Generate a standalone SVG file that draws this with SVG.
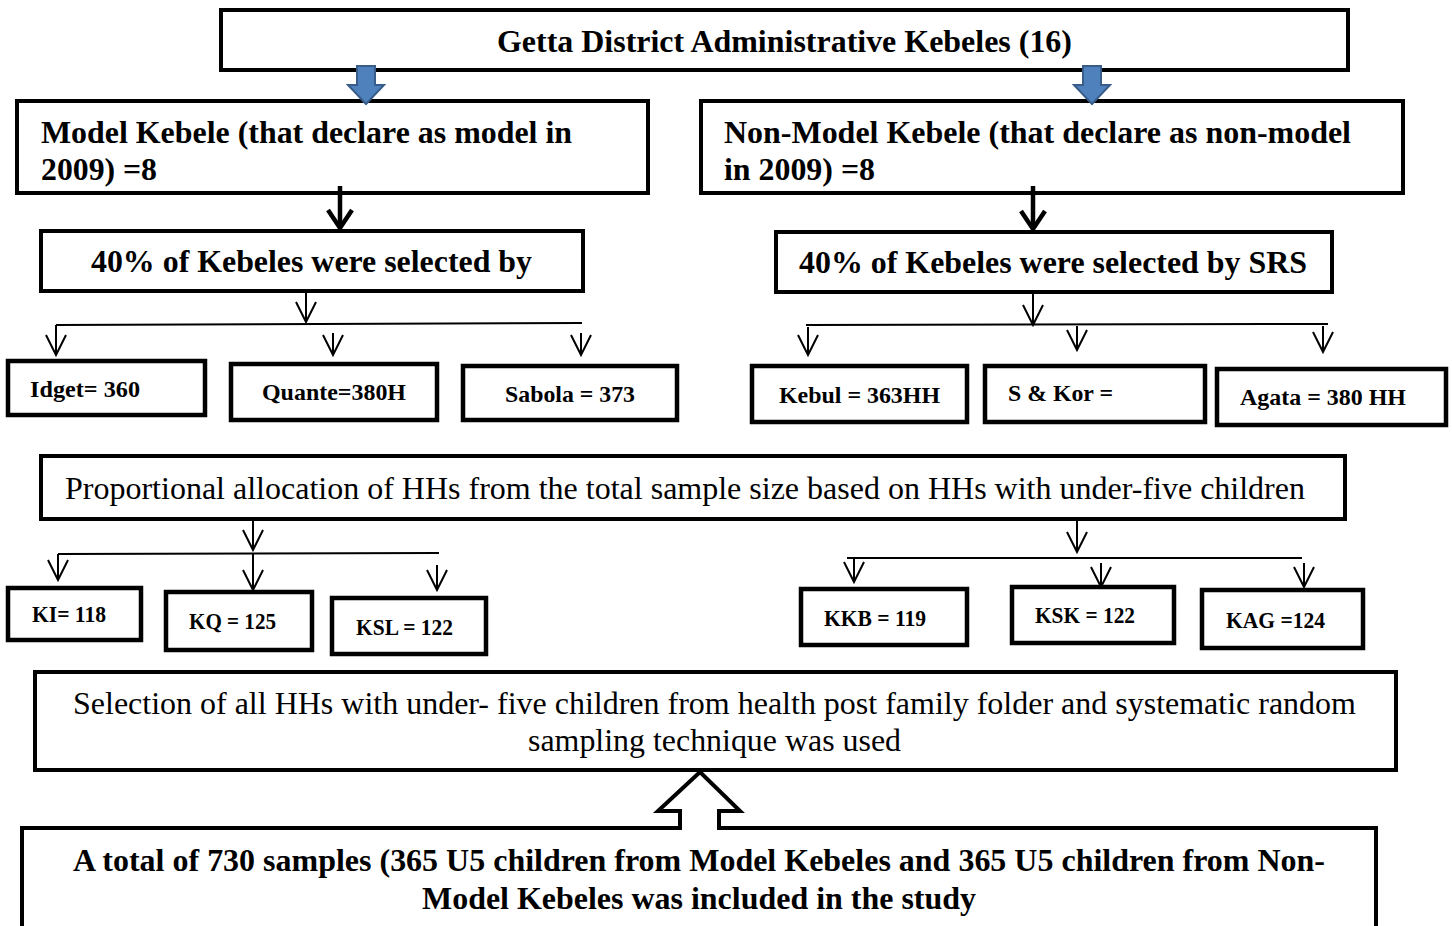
<svg xmlns="http://www.w3.org/2000/svg" width="1452" height="926" viewBox="0 0 1452 926">
<style>
.box{fill:#fff;stroke:#000;stroke-width:4}
.sbox{fill:#fff;stroke:#000;stroke-width:4.5}
.b{font-family:"Liberation Serif","Times New Roman",serif;font-weight:bold;fill:#000}
.n{font-family:"Liberation Serif","Times New Roman",serif;fill:#000}
.t{font-size:31px}
.s{font-size:23px}
.ln{fill:none;stroke:#000;stroke-width:2}
.thick{fill:none;stroke:#000;stroke-width:4.5}
.blue{fill:#4f81bd;stroke:#385d8a;stroke-width:2}
</style>
<defs>
<marker id="v" markerUnits="userSpaceOnUse" viewBox="-22 -12 24 24" refX="0" refY="0" markerWidth="24" markerHeight="24" orient="auto">
<path d="M-20,-10 L0,0 L-20,10" fill="none" stroke="#000" stroke-width="2"/>
</marker>
</defs>
<g id="title"><rect class="box" x="221" y="10" width="1127" height="60"/><text class="b t" x="497" y="52" textLength="575" lengthAdjust="spacingAndGlyphs">Getta District Administrative Kebeles (16)</text></g>
<g id="model"><rect class="box" x="17" y="101" width="631" height="92"/><text class="b t" x="41" y="143" textLength="531" lengthAdjust="spacingAndGlyphs">Model Kebele (that declare as model in</text><text class="b t" x="41" y="180" textLength="116" lengthAdjust="spacingAndGlyphs">2009) =8</text></g>
<g id="nonmodel"><rect class="box" x="701" y="101" width="702" height="92"/><text class="b t" x="724" y="143" textLength="627" lengthAdjust="spacingAndGlyphs">Non-Model Kebele (that declare as non-model</text><text class="b t" x="724" y="180" textLength="151" lengthAdjust="spacingAndGlyphs">in 2009) =8</text></g>
<g id="sel-left"><rect class="box" x="41" y="231" width="542" height="60"/><text class="b t" x="91" y="272" textLength="441" lengthAdjust="spacingAndGlyphs">40% of Kebeles were selected by</text></g>
<g id="sel-right"><rect class="box" x="776" y="232" width="556" height="60"/><text class="b t" x="799" y="273" textLength="508" lengthAdjust="spacingAndGlyphs">40% of Kebeles were selected by SRS</text></g>
<g id="idget"><rect class="sbox" x="8" y="361" width="197" height="54"/><text class="b s" x="30" y="397" textLength="110" lengthAdjust="spacingAndGlyphs">Idget= 360</text></g>
<g id="quante"><rect class="sbox" x="231" y="364" width="206" height="56"/><text class="b s" x="262" y="400" textLength="144" lengthAdjust="spacingAndGlyphs">Quante=380H</text></g>
<g id="sabola"><rect class="sbox" x="463" y="366" width="214" height="54"/><text class="b s" x="505" y="402" textLength="130" lengthAdjust="spacingAndGlyphs">Sabola = 373</text></g>
<g id="kebul"><rect class="sbox" x="752" y="366" width="215" height="56"/><text class="b s" x="779" y="403" textLength="161" lengthAdjust="spacingAndGlyphs">Kebul = 363HH</text></g>
<g id="skor"><rect class="sbox" x="985" y="366" width="220" height="56"/><text class="b s" x="1008" y="401" textLength="105" lengthAdjust="spacingAndGlyphs">S &amp; Kor =</text></g>
<g id="agata"><rect class="sbox" x="1217" y="369" width="229" height="56"/><text class="b s" x="1240" y="405" textLength="166" lengthAdjust="spacingAndGlyphs">Agata = 380 HH</text></g>
<g id="proportional"><rect class="box" x="41" y="456" width="1304" height="63"/><text class="n t" x="65" y="499" textLength="1240" lengthAdjust="spacingAndGlyphs">Proportional allocation of HHs from the total sample size based on HHs with under-five children</text></g>
<g id="ki"><rect class="sbox" x="8" y="588" width="133" height="52"/><text class="b s" x="32" y="622" textLength="74" lengthAdjust="spacingAndGlyphs">KI= 118</text></g>
<g id="kq"><rect class="sbox" x="166" y="592" width="146" height="58"/><text class="b s" x="189" y="629" textLength="87" lengthAdjust="spacingAndGlyphs">KQ = 125</text></g>
<g id="ksl"><rect class="sbox" x="332" y="598" width="154" height="56"/><text class="b s" x="356" y="635" textLength="97" lengthAdjust="spacingAndGlyphs">KSL = 122</text></g>
<g id="kkb"><rect class="sbox" x="801" y="589" width="166" height="56"/><text class="b s" x="824" y="626" textLength="102" lengthAdjust="spacingAndGlyphs">KKB = 119</text></g>
<g id="ksk"><rect class="sbox" x="1012" y="587" width="162" height="56"/><text class="b s" x="1035" y="623" textLength="100" lengthAdjust="spacingAndGlyphs">KSK = 122</text></g>
<g id="kag"><rect class="sbox" x="1202" y="590" width="161" height="58"/><text class="b s" x="1226" y="628" textLength="99" lengthAdjust="spacingAndGlyphs">KAG =124</text></g>
<g id="selection"><rect class="box" x="35" y="672" width="1361" height="98"/><text class="n t" x="73" y="714" textLength="1283" lengthAdjust="spacingAndGlyphs">Selection of all HHs with under- five children from health post family folder and systematic random</text><text class="n t" x="528" y="751" textLength="373" lengthAdjust="spacingAndGlyphs">sampling technique was used</text></g>
<g id="total"><rect class="box" x="22" y="828" width="1354" height="110"/><text class="b t" x="73" y="871" textLength="1252" lengthAdjust="spacingAndGlyphs">A total of 730 samples (365 U5 children from Model Kebeles and 365 U5 children from Non-</text><text class="b t" x="422" y="909" textLength="554" lengthAdjust="spacingAndGlyphs">Model Kebeles was included in the study</text></g>
<g id="connectors">
<path class="blue" d="M357,66 H375 V85 H384 L366,104 L348,85 H357 Z"/>
<path class="blue" d="M1083,66 H1101 V85 H1110 L1092,104 L1074,85 H1083 Z"/>
<path class="thick" d="M340,186 V227"/>
<path class="thick" d="M328,210 L340,228 L352,210"/>
<path class="thick" d="M1033,186 V228"/>
<path class="thick" d="M1021,211 L1033,229 L1045,211"/>
<path class="ln" d="M306,293 V322" marker-end="url(#v)"/>
<path class="ln" d="M56,325 L582,323"/>
<path class="ln" d="M56,325 V355" marker-end="url(#v)"/>
<path class="ln" d="M333,333 V355" marker-end="url(#v)"/>
<path class="ln" d="M581,333 V355" marker-end="url(#v)"/>
<path class="ln" d="M1033,294 V325" marker-end="url(#v)"/>
<path class="ln" d="M806,325 L1328,324"/>
<path class="ln" d="M808,327 V355" marker-end="url(#v)"/>
<path class="ln" d="M1077,326 V350" marker-end="url(#v)"/>
<path class="ln" d="M1323,326 V352" marker-end="url(#v)"/>
<path class="ln" d="M253,521 V550" marker-end="url(#v)"/>
<path class="ln" d="M58,554 L439,553"/>
<path class="ln" d="M58,554 V580" marker-end="url(#v)"/>
<path class="ln" d="M253,553 V590" marker-end="url(#v)"/>
<path class="ln" d="M437,565 V590" marker-end="url(#v)"/>
<path class="ln" d="M1077,521 V552" marker-end="url(#v)"/>
<path class="ln" d="M847,558 L1302,558"/>
<path class="ln" d="M854,558 V582" marker-end="url(#v)"/>
<path class="ln" d="M1101,563 V587" marker-end="url(#v)"/>
<path class="ln" d="M1304,563 V587" marker-end="url(#v)"/>
<path d="M700,772 L740,811 L719,811 V831 H680 V811 L658,811 Z" fill="#fff" stroke="none"/>
<path d="M680,830 V811 L658,811 L700,772 L740,811 L719,811 V830" fill="none" stroke="#000" stroke-width="4"/>
</g>
</svg>
